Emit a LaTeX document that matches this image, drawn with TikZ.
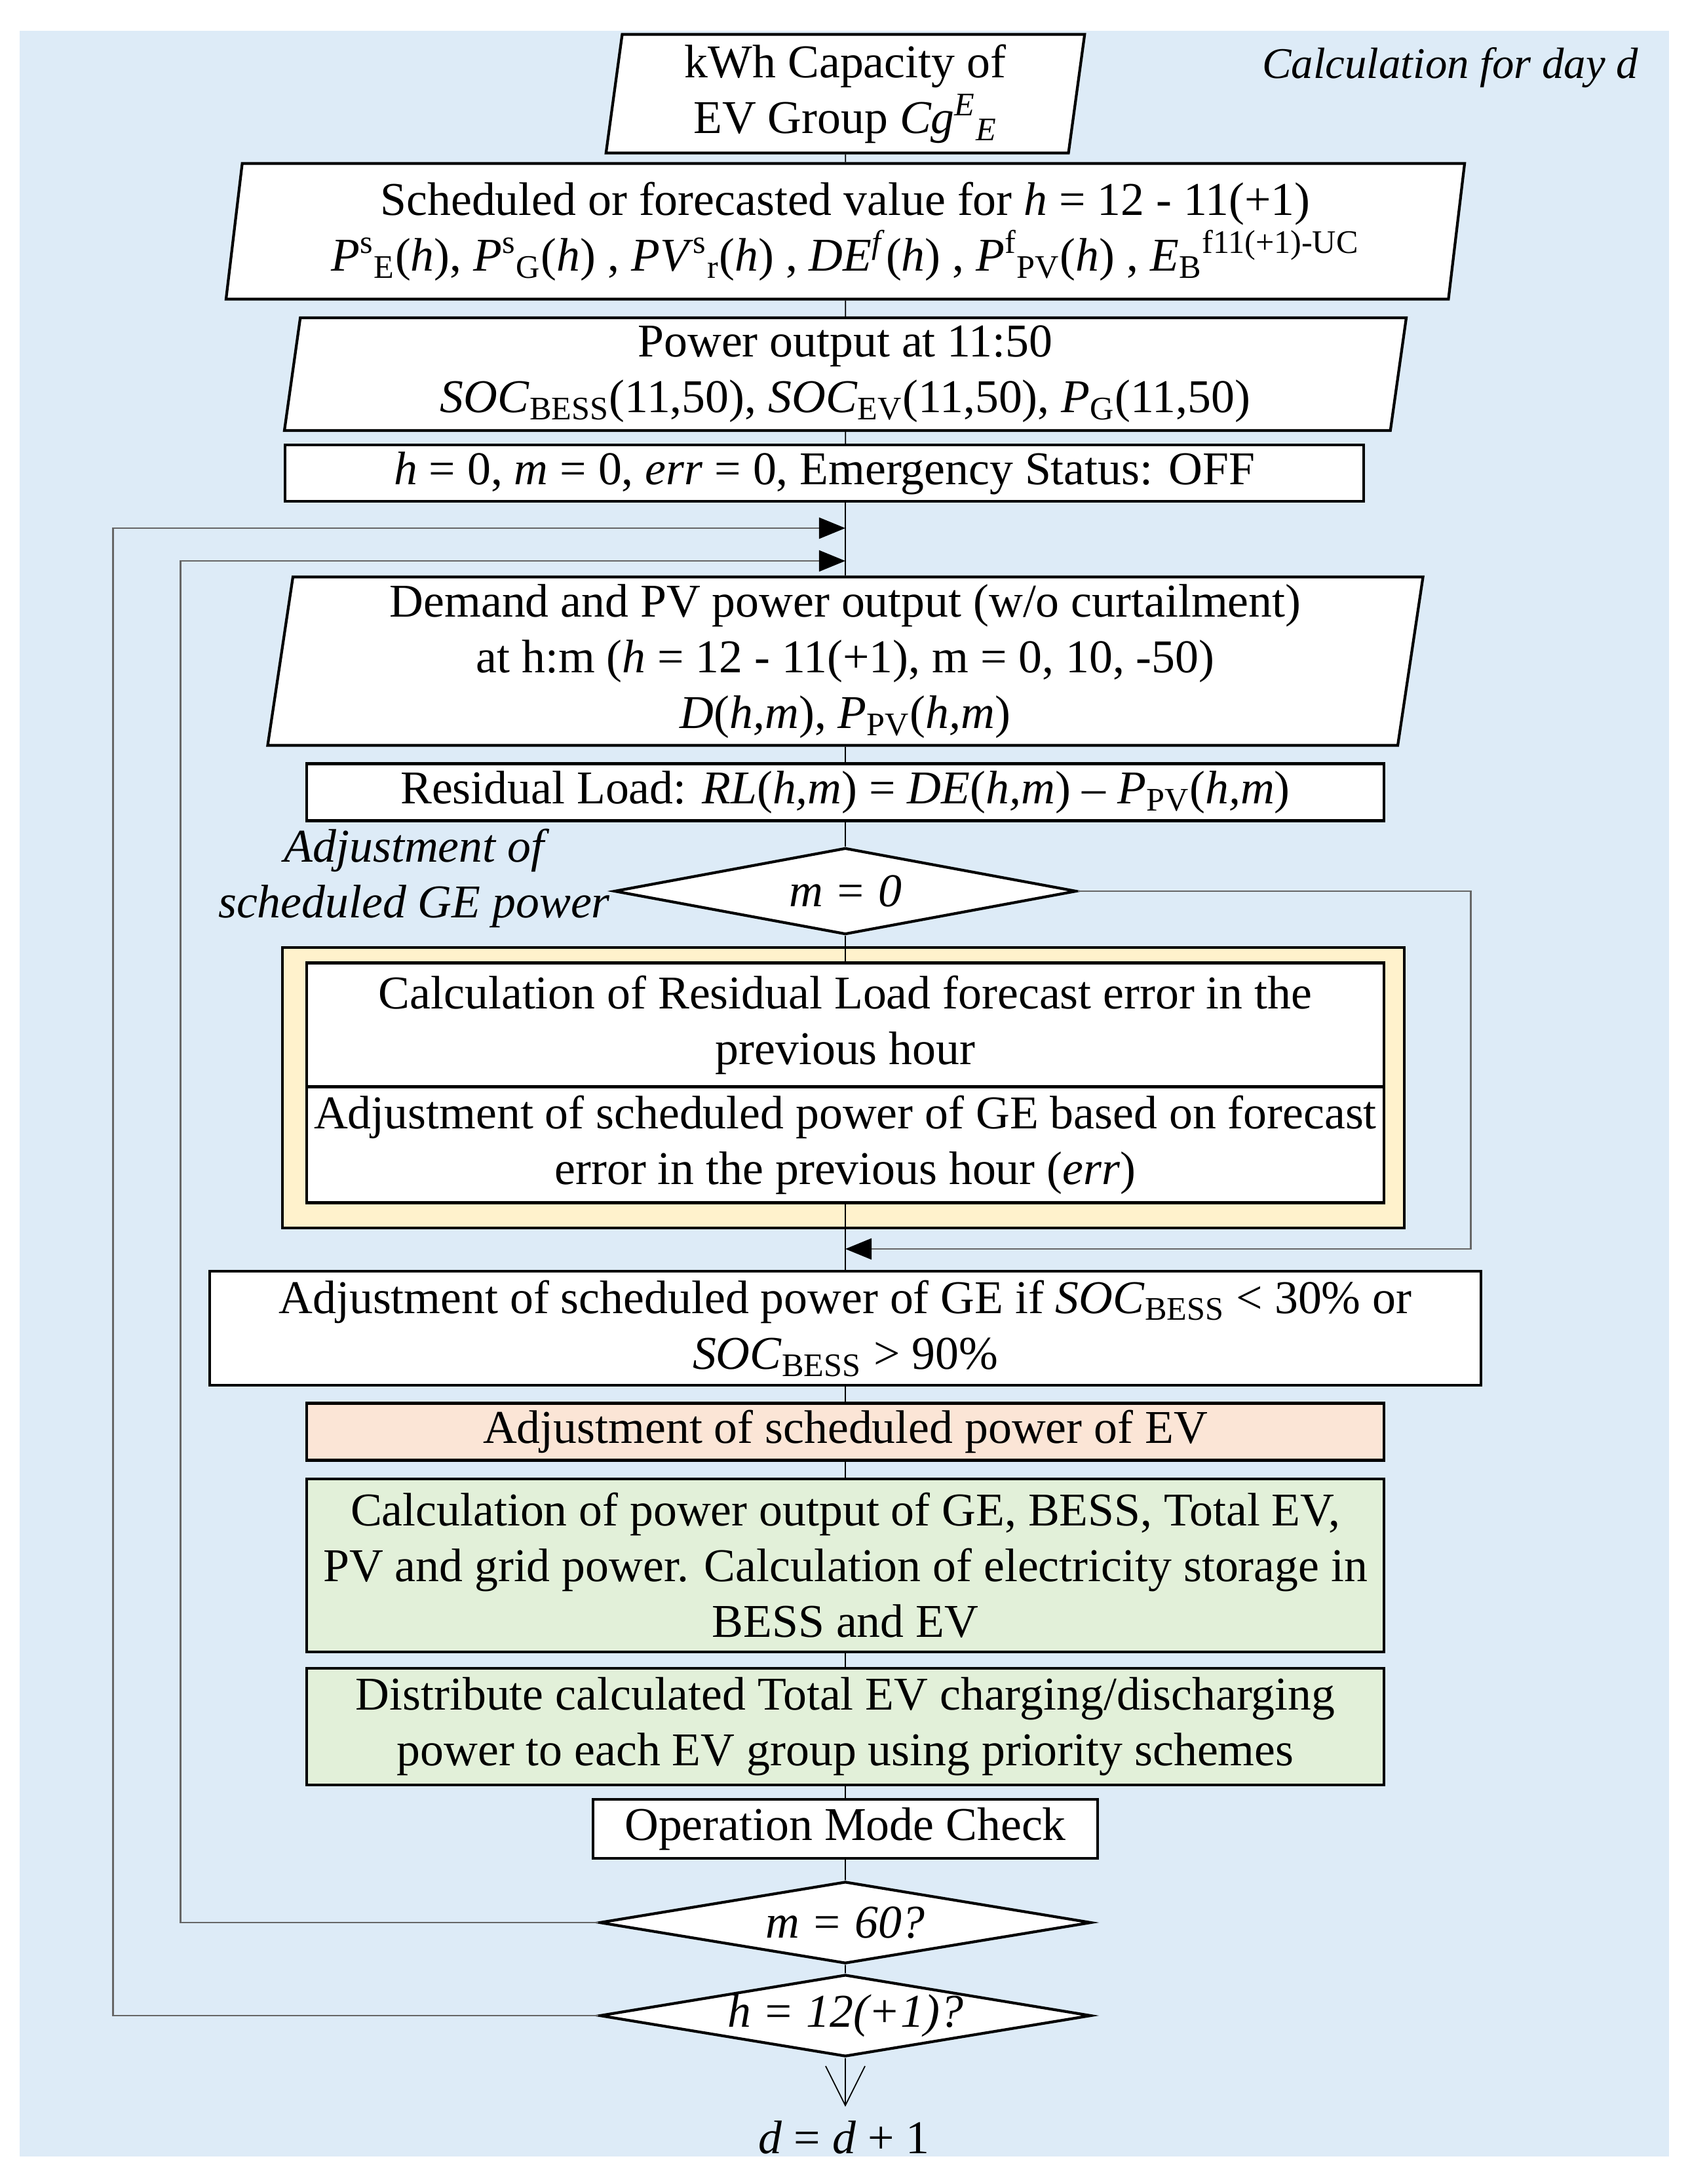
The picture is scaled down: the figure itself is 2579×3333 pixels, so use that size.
\documentclass[tikz,border=0pt]{standalone}
\usepackage{fontspec}
\setmainfont{Liberation Serif}
\usetikzlibrary{shapes.geometric,arrows.meta}
\definecolor{bgblue}{HTML}{DDEBF7}
\definecolor{ylwfill}{HTML}{FFF2CC}
\definecolor{evfill}{HTML}{FBE5D6}
\definecolor{calcfill}{HTML}{E2F0D9}
\definecolor{loopgray}{HTML}{666666}
\begin{document}
\begin{tikzpicture}[x=0.01cm, y=-0.01cm,
  every node/.style={font=\fontsize{20.4}{24.2}\selectfont, inner sep=0pt, align=center},
  box/.style={rectangle, draw=black, line width=1.2pt, fill=white},
  io/.style={trapezium, trapezium left angle=80.7, trapezium right angle=99.3, trapezium stretches body, draw=black, line width=1.2pt, fill=white},
  dec/.style={diamond, aspect=6, draw=black, line width=1.2pt, fill=white, font=\fontsize{20.4}{24.2}\selectfont\itshape},
  conn/.style={draw=black, line width=0.5pt},
  loopline/.style={draw=loopgray, line width=0.8pt, -{Triangle[length=4mm,width=3.2mm,color=black]}}]
\useasboundingbox (0,0) rectangle (2579,3333);
\fill[bgblue] (30,47) rectangle (2547,3291);
\node[font=\fontsize{19}{23}\selectfont\itshape] (title) at (2213,103) {Calculation for day d};
\node[io, minimum width=7.30cm, minimum height=1.81cm] (kwh) at (1290,143)
  {kWh Capacity of\\EV Group \textit{Cg}\textsuperscript{\textit{E}}\textsubscript{\textit{E}}};
\node[io, minimum width=18.89cm, minimum height=2.07cm] (sched) at (1290,353)
  {Scheduled or forecasted value for \textit{h} = 12 - 11(+1)\\
   \textit{P}\textsuperscript{s}\textsubscript{E}(\textit{h}), \textit{P}\textsuperscript{s}\textsubscript{G}(\textit{h}) , \textit{PV}\textsuperscript{s}\textsubscript{r}(\textit{h}) , \textit{DE}\textsuperscript{\textit{f}}(\textit{h}) , \textit{P}\textsuperscript{f}\textsubscript{PV}(\textit{h}) , \textit{E}\textsubscript{B}\textsuperscript{f11(+1)-UC}};
\node[io, minimum width=17.11cm, minimum height=1.72cm] (pwr) at (1290,571)
  {Power output at 11:50\\
   \textit{SOC}\textsubscript{BESS}(11,50), \textit{SOC}\textsubscript{EV}(11,50), \textit{P}\textsubscript{G}(11,50)};
\node[box, minimum width=16.45cm, minimum height=0.86cm] (init) at (1258,722)
  {\textit{h} = 0, \textit{m} = 0, \textit{err} = 0, Emergency Status: OFF};
\coordinate (j1) at (1290,806);
\coordinate (j2) at (1290,856);
\node[io, minimum width=17.62cm, minimum height=2.57cm] (demand) at (1290,1009)
  {Demand and PV power output (w/o curtailment)\\
   at h:m (\textit{h} = 12 - 11(+1), m = 0, 10, -50)\\
   \textit{D}(\textit{h,m}), \textit{P}\textsubscript{PV}(\textit{h,m})};
\node[box, minimum width=16.43cm, minimum height=0.87cm] (rl) at (1290,1209)
  {Residual Load: \textit{RL}(\textit{h,m}) = \textit{DE}(\textit{h,m}) – \textit{P}\textsubscript{PV}(\textit{h,m})};
\node[dec, minimum width=7.05cm, minimum height=1.32cm] (dia0) at (1290,1360) {m = 0};
\node[font=\fontsize{20.4}{24.2}\selectfont\itshape] (adjlbl) at (632,1340) {Adjustment of\\scheduled GE power};
\node[box, fill=ylwfill, minimum width=17.11cm, minimum height=4.28cm] (ylw) at (1287,1660) {};
\node[box, minimum width=16.43cm, minimum height=1.89cm] (err1) at (1290,1564)
  {Calculation of Residual Load forecast error in the\\previous hour};
\node[box, minimum width=16.43cm, minimum height=1.77cm] (err2) at (1290,1747)
  {Adjustment of scheduled power of GE based on forecast\\error in the previous hour (\textit{err})};
\coordinate (j0) at (1290,1906);
\node[box, minimum width=19.39cm, minimum height=1.74cm] (soc) at (1290,2027)
  {Adjustment of scheduled power of GE if \textit{SOC}\textsubscript{BESS} < 30\% or\\
   \textit{SOC}\textsubscript{BESS} > 90\%};
\node[box, fill=evfill, minimum width=16.43cm, minimum height=0.87cm] (evadj) at (1290,2185)
  {Adjustment of scheduled power of EV};
\node[box, fill=calcfill, minimum width=16.43cm, minimum height=2.64cm] (calc) at (1290,2389)
  {Calculation of power output of GE, BESS, Total EV,\\
   PV and grid power. Calculation of electricity storage in\\BESS and EV};
\node[box, fill=calcfill, minimum width=16.43cm, minimum height=1.78cm] (dist) at (1290,2635)
  {Distribute calculated Total EV charging/discharging\\power to each EV group using priority schemes};
\node[box, minimum width=7.70cm, minimum height=0.90cm] (mode) at (1290,2791) {Operation Mode Check};
\node[dec, minimum width=7.50cm, minimum height=1.25cm] (dia60) at (1290,2934) {m = 60?};
\node[dec, minimum width=7.46cm, minimum height=1.22cm] (diah) at (1290,3076) {h = 12(+1)?};
\coordinate (dend) at (1290,3215);
\node (dnext) at (1288,3262) {\textit{d} = \textit{d} + 1};
\draw[conn] (kwh) -- (sched) (sched) -- (pwr) (pwr.south) -- (pwr.south |- init.north)
  (j1 |- init.south) -- (demand) (demand) -- (rl) (rl) -- (dia0) (dia0) -- (err1)
  (err2) -- (soc) (soc) -- (evadj) (evadj) -- (calc) (calc) -- (dist) (dist) -- (mode)
  (mode) -- (dia60) (dia60) -- (diah);
\draw[conn, -{Straight Barb[length=6mm,width=6mm]}] (diah) -- (dend);
\draw[loopline] (dia0.east) -- ++(600,0) |- (j0);
\draw[loopline] (dia60.west) -- ++(-637,0) |- (j2);
\draw[loopline] (diah.west) -- ++(-740,0) |- (j1);
\end{tikzpicture}
\end{document}
